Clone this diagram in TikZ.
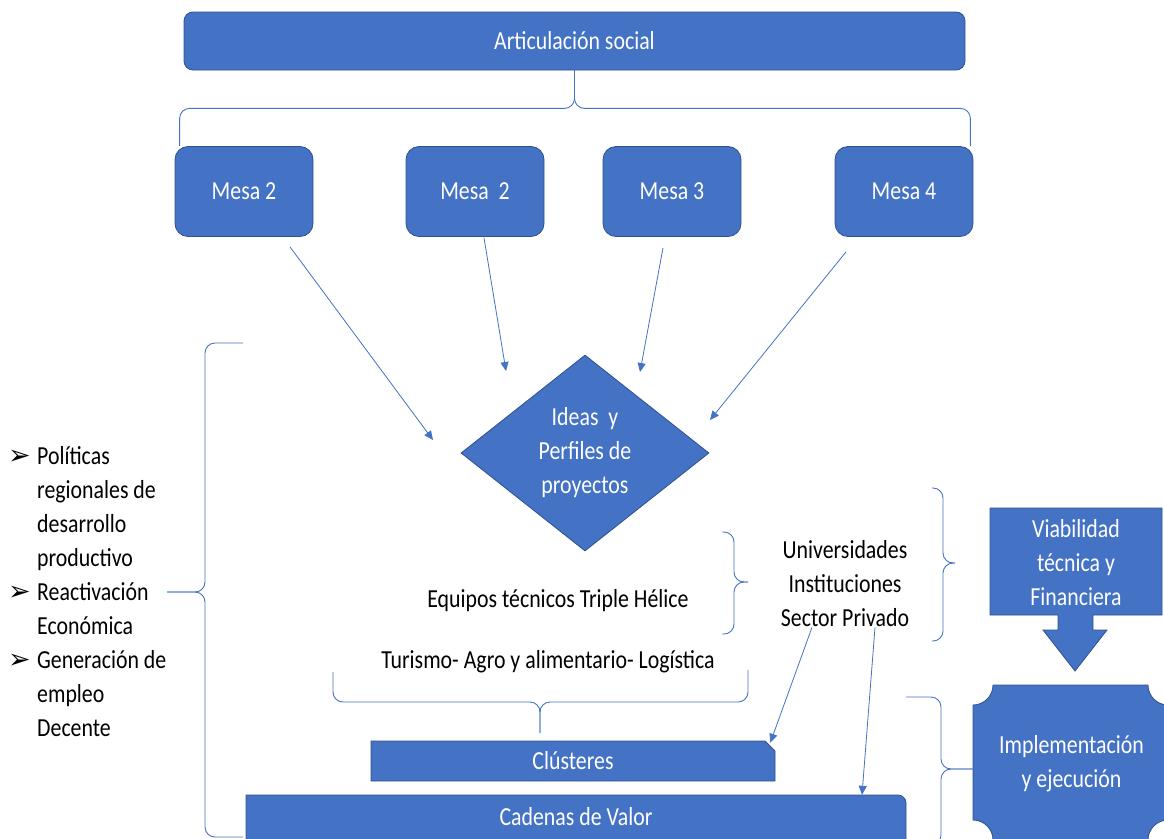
\documentclass[tikz,border=0pt]{standalone}
\usepackage{fontspec}
\setmainfont{Carlito}[FakeStretch=0.84]
\newfontfamily\simbolo{DejaVu Sans}
\usepackage{tikz}
\usetikzlibrary{positioning}
\usetikzlibrary{arrows.meta,shapes}
\usetikzlibrary{calc}
\definecolor{azul}{HTML}{4472C4}
\definecolor{bordeazul}{HTML}{2F528F}

\begin{document}
\begin{tikzpicture}[x=1pt,y=-1pt,font=\fontsize{26}{34}\selectfont,
  caja/.style={draw=bordeazul,fill=azul,text=white,line width=0.8pt},
  mesa/.style={caja,rounded corners=13pt,minimum width=138pt,minimum height=90pt},
  texto/.style={text=black,inner sep=0pt},
  llave/.style={draw=azul,line width=0.9pt,rounded corners=10pt},
  flecha/.style={draw=azul,line width=0.8pt,-{Triangle[length=9pt,width=8pt]}}]
\useasboundingbox (0,0) rectangle (1164,838);

\node[caja,rounded corners=9pt,minimum width=781pt,minimum height=58pt] (art) at (574.5,41) {Articulación social};

\foreach \x/\t/\i in {244/Mesa 2/1,475/Mesa~~2/2,672/Mesa 3/3,904/Mesa 4/4}
  \node[mesa] (m\i) at (\x,191.5) {\t};

\draw[llave] ([xshift=5pt]m1.north west) |- ($(art.south)+(0,38)$) -- (art.south);
\draw[llave] (art.south) -- ($(art.south)+(0,38)$) -| ([xshift=-3pt]m4.north east);

\node[caja,diamond,aspect=1.27,inner sep=0pt,minimum width=248pt,minimum height=196pt,align=center] (idea) at (585,453) {Ideas~~y\\Perfiles de\\proyectos};

\foreach \i/\dx/\dy/\ex/\ey in {1/46/10/-152/-13,2/9/1/-79/-82,3/-9/11/55/-81,4/-58/15/125/-33}
  \draw[flecha] ($(m\i.south)+(\dx,\dy)$) -- ($(idea)+(\ex,\ey)$);

% lista de la izquierda
\node[texto,anchor=west] (lista) at (8,594) {\begin{tabular}{@{}l@{}l@{}}
  \makebox[29pt][l]{\simbolo\fontsize{27}{27}\selectfont ➢} & Políticas\\
  & regionales de\\
  & desarrollo\\
  & productivo\\
  \makebox[29pt][l]{\simbolo\fontsize{27}{27}\selectfont ➢} & Reactivación\\
  & Económica\\
  \makebox[29pt][l]{\simbolo\fontsize{27}{27}\selectfont ➢} & Generación de\\
  & empleo\\
  & Decente
\end{tabular}};
\draw[llave] (243,343) -| (205,592) -- (167,592);
\draw[llave] (167,592) -- (205,592) |- (243,837);

\node[texto] (equipos) at (558,601) {Equipos técnicos Triple Hélice};
\node[texto,align=center] (actores) at (845,584) {Universidades\\Instituciones\\Sector Privado};
\node[texto] (sectores) at (548,662) {Turismo- Agro y alimentario- Logística};

\draw[llave] (722,532) -| (734,582) -- (748,582);
\draw[llave] (748,582) -- (734,582) |- (722,634);
\draw[llave] (932,488) -| (943,563) -- (955,563);
\draw[llave] (955,563) -- (943,563) |- (932,641);
\draw[llave] (333,672) |- (540,702) -- (540,733);
\draw[llave] (540,733) -- (540,702) -| (748,670);

% viabilidad y ejecucion
\draw[caja] (990,508) -- (1162,508) -- (1162,615) -- (1093,615) -- (1093,630) -- (1107,630)
  -- (1075,671) -- (1043,630) -- (1058,630) -- (1058,615) -- (990,615) -- cycle;
\node[texto,text=white,align=center,minimum width=172pt,minimum height=107pt] (viab) at (1076,563) {Viabilidad\\técnica y\\Financiera};

\draw[caja] (973,705) .. controls (984,705) and (993,696) .. (993,685)
  -- (1148,685) .. controls (1148,696) and (1157,705) .. (1168,705)
  -- (1168,820) .. controls (1157,820) and (1148,829) .. (1148,840)
  -- (993,840) .. controls (993,829) and (984,820) .. (973,820) -- cycle;
\node[texto,text=white,align=center,minimum width=195pt,minimum height=155pt] (impl) at (1071.5,763.5) {Implementación\\y ejecución};
\draw[llave] (906,697) -| (941,769) -- ($(impl.west)+(0,5.5)$);
\draw[llave] ($(impl.west)+(0,5.5)$) -- (941,769) |- (906,845);

% barras de abajo
\node[caja,chamfered rectangle,chamfered rectangle corners=north east,chamfered rectangle xsep=5pt,chamfered rectangle ysep=5pt,minimum width=404pt,minimum height=40pt] (clus) at (573,761) {Clústeres};
\draw[caja] (246,848) -- (246,795) -- (898,795) .. controls (902.4,795) and (906,798.6) .. (906,803) -- (906,848) -- cycle;
\node[texto,text=white,minimum width=660pt,minimum height=43pt] (cad) at (576,816.5) {Cadenas de Valor};

\draw[flecha] ([xshift=-33pt]actores.south) -- ([yshift=3pt]clus.north east);
\draw[flecha] ([xshift=30pt]actores.south) -- ($(cad.north)+(286,0)$);
\end{tikzpicture}
\end{document}
